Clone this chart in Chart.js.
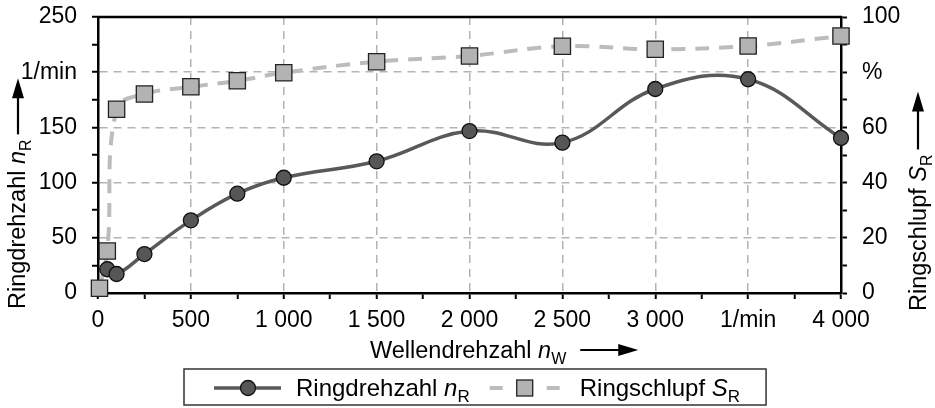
<!DOCTYPE html>
<html><head><meta charset="utf-8">
<script src="https://cdn.jsdelivr.net/npm/chart.js@4/dist/chart.umd.min.js"></script>
<style>html,body{margin:0;padding:0;background:#fff}#wrap{width:935px;height:408px;position:relative}</style>
</head><body><div id="wrap"><canvas id="c" width="935" height="408"></canvas></div>
<script>
// ---- data ----
const ringShaftSpeed = [50, 100, 250, 500, 750, 1000, 1500, 2000, 2500, 3000, 3500, 4000];
const ringSpeed      = [21.5, 17.2, 35.3, 65.8, 90.0, 104.4, 119.3, 146.7, 136.2, 184.8, 193.6, 140.4];
const slipShaftSpeed = [8, 50, 100, 250, 500, 750, 1000, 1500, 2000, 2500, 3000, 3500, 4000];
const ringSlip       = [1.7, 15.2, 66.6, 72.1, 74.7, 76.9, 79.8, 83.8, 85.9, 89.4, 88.3, 89.5, 93.1];

const xTickValues  = [0, 500, 1000, 1500, 2000, 2500, 3000, 3500, 4000];
const xTickLabels  = ['0', '500', '1 000', '1 500', '2 000', '2 500', '3 000', '1/min', '4 000'];
const yTickValues  = [0, 50, 100, 150, 200, 250];
const yTickLabels  = ['0', '50', '100', '150', '1/min', '250'];
const y2TickValues = [0, 20, 40, 60, 80, 100];
const y2TickLabels = ['0', '20', '40', '60', '%', '100'];

const seriesNames   = ['Ringdrehzahl', 'Ringschlupf'];
const seriesSymbols = ['n', 'S'];
const seriesIndex   = 'R';
const xTitleParts   = ['Wellendrehzahl ', 'n', 'W'];

// ---- styles ----
const FONT = '"Liberation Sans", Arial, sans-serif';
const FS = 23;      // tick labels
const TFS = 23.5;   // axis titles
const LFS = 24;     // legend
const darkLine = '#595959', darkFill = '#565656';
const lightLine = '#bcbcbc', lightFill = '#b3b3b3';
const gridCol = '#b3b3b3';

function labelFrom(values, labels) {
  return v => { const i = values.indexOf(v); return i >= 0 ? labels[i] : ''; };
}

function richParts(name, sym, sub) {
  return [{t: name + ' '}, {t: sym, it: true}, {t: sub, sub: true}];
}
function setFont(ctx, p, size) {
  const fs = p.sub ? Math.round(size * 0.7) : size;
  ctx.font = (p.it ? 'italic ' : '') + fs + 'px ' + FONT;
}
function drawRich(ctx, parts, x, y, size) {
  let cx = x;
  ctx.textAlign = 'left'; ctx.textBaseline = 'alphabetic';
  for (const p of parts) {
    setFont(ctx, p, size);
    ctx.fillText(p.t, cx, y + (p.sub ? size * 0.25 : 0));
    cx += ctx.measureText(p.t).width;
  }
  return cx;
}
function arrow(ctx, x0, y0, len) { // drawn along +x in current transform
  ctx.beginPath(); ctx.moveTo(x0, y0); ctx.lineTo(x0 + len - 14, y0);
  ctx.lineWidth = 2.2; ctx.strokeStyle = '#000'; ctx.stroke();
  ctx.beginPath(); ctx.moveTo(x0 + len, y0); ctx.lineTo(x0 + len - 20, y0 - 6);
  ctx.lineTo(x0 + len - 20, y0 + 6); ctx.closePath(); ctx.fillStyle = '#000'; ctx.fill();
}

const decorPlugin = {
  id: 'decor',
  afterDraw(chart) {
    const ctx = chart.ctx, a = chart.chartArea;
    ctx.save();
    // top frame line
    ctx.beginPath(); ctx.moveTo(a.left - 1, a.top); ctx.lineTo(a.right + 1, a.top);
    ctx.lineWidth = 2.5; ctx.strokeStyle = '#000'; ctx.stroke();
    ctx.fillStyle = '#000';
    // x title
    const xParts = [{t: xTitleParts[0]}, {t: xTitleParts[1], it: true}, {t: xTitleParts[2], sub: true}];
    const xEnd = drawRich(ctx, xParts, 370, 358, TFS);
    arrow(ctx, xEnd + 14, 350, 58);
    // left title (rotated)
    ctx.save();
    ctx.translate(25, 309); ctx.rotate(-Math.PI / 2);
    ctx.fillStyle = '#000';
    const lEnd = drawRich(ctx, richParts(seriesNames[0], seriesSymbols[0], seriesIndex), 0, 0, TFS);
    arrow(ctx, lEnd + 5, -7, 56);
    ctx.restore();
    // right title (rotated)
    ctx.save();
    ctx.translate(926, 311); ctx.rotate(-Math.PI / 2);
    ctx.fillStyle = '#000';
    const rEnd = drawRich(ctx, richParts(seriesNames[1], seriesSymbols[1], seriesIndex), 0, 0, TFS);
    arrow(ctx, rEnd + 5, -8, 58);
    ctx.restore();

    // legend
    const ly = 388, lx = 184;
    let x = lx + 30;
    ctx.beginPath(); ctx.moveTo(x, ly); ctx.lineTo(x + 67, ly);
    ctx.lineWidth = 3.5; ctx.strokeStyle = darkLine; ctx.stroke();
    ctx.beginPath(); ctx.arc(x + 34, ly, 7.5, 0, Math.PI * 2);
    ctx.fillStyle = darkFill; ctx.fill(); ctx.lineWidth = 1.3; ctx.strokeStyle = '#111'; ctx.stroke();
    x += 82;
    ctx.fillStyle = '#000';
    x = drawRich(ctx, richParts(seriesNames[0], seriesSymbols[0], seriesIndex), x, ly + 8, LFS);
    x += 20;
    ctx.lineWidth = 4; ctx.strokeStyle = lightLine; ctx.lineCap = 'butt';
    ctx.beginPath(); ctx.moveTo(x, ly); ctx.lineTo(x + 13, ly); ctx.stroke();
    ctx.beginPath(); ctx.moveTo(x + 57, ly); ctx.lineTo(x + 70, ly); ctx.stroke();
    ctx.fillStyle = lightFill; ctx.fillRect(x + 27, ly - 8, 16, 16);
    ctx.lineWidth = 1.3; ctx.strokeStyle = '#222'; ctx.strokeRect(x + 27, ly - 8, 16, 16);
    x += 90;
    ctx.fillStyle = '#000';
    x = drawRich(ctx, richParts(seriesNames[1], seriesSymbols[1], seriesIndex), x, ly + 8, LFS);
    ctx.lineWidth = 1.5; ctx.strokeStyle = '#333';
    ctx.strokeRect(lx, ly - 19, x + 26 - lx, 36);
    ctx.restore();
  }
};

const gridDash = [8, 6];
function gridColor(isMajor) {
  return c => (c.tick && isMajor(c.tick.value)) ? gridCol : 'rgba(0,0,0,0)';
}
function fitV(w) { return s => { s.width = w; s.paddingTop = 0; s.paddingBottom = 0; }; }

new Chart(document.getElementById('c'), {
  type: 'line',
  data: {
    datasets: [
      {
        label: seriesNames[0],
        data: ringShaftSpeed.map((x, i) => ({x, y: ringSpeed[i]})),
        yAxisID: 'y', order: 0,
        borderColor: darkLine, borderWidth: 3.5, tension: 0.4,
        pointStyle: 'circle', pointRadius: 7.5, pointBackgroundColor: darkFill,
        pointBorderColor: '#111', pointBorderWidth: 1.3, clip: false
      },
      {
        label: seriesNames[1],
        data: slipShaftSpeed.map((x, i) => ({x, y: ringSlip[i]})),
        yAxisID: 'y1', order: 1,
        borderColor: lightLine, borderWidth: 4, borderDash: [14, 10], tension: 0.4,
        pointStyle: 'rect', pointRadius: 11.5, pointBackgroundColor: lightFill,
        pointBorderColor: '#222', pointBorderWidth: 1.3, clip: false
      }
    ]
  },
  options: {
    responsive: false, animation: false, devicePixelRatio: 1,
    layout: {padding: {top: 17, left: 0, right: 0, bottom: 0}},
    plugins: {legend: {display: false}, tooltip: {enabled: false}},
    scales: {
      x: {
        type: 'linear', min: 0, max: 4000,
        afterFit: s => { s.height = 115; s.paddingLeft = 0; s.paddingRight = 0; },
        ticks: {stepSize: 250, autoSkip: false, maxRotation: 0, padding: 8, color: '#000',
                font: {family: FONT, size: FS}, callback: labelFrom(xTickValues, xTickLabels)},
        grid: {color: gridColor(v => v % 500 === 0 && v > 0 && v < 4000), lineWidth: 1.5,
               borderDash: gridDash, tickColor: '#000', tickWidth: 2, tickLength: 6, tickBorderDash: []},
        border: {color: '#000', width: 2.5, dash: gridDash}
      },
      y: {
        type: 'linear', position: 'left', min: 0, max: 250,
        afterFit: fitV(98),
        ticks: {stepSize: 25, autoSkip: false, padding: 15, color: '#000',
                font: {family: FONT, size: FS}, callback: labelFrom(yTickValues, yTickLabels)},
        grid: {color: gridColor(v => v % 50 === 0 && v > 0 && v < 250), lineWidth: 1.5,
               borderDash: gridDash, tickColor: '#000', tickWidth: 2, tickLength: 6, tickBorderDash: []},
        border: {color: '#000', width: 2.5, dash: gridDash}
      },
      y1: {
        type: 'linear', position: 'right', min: 0, max: 100,
        afterFit: fitV(94),
        ticks: {stepSize: 10, autoSkip: false, padding: 15, color: '#000',
                font: {family: FONT, size: FS}, callback: labelFrom(y2TickValues, y2TickLabels)},
        grid: {drawOnChartArea: false, tickColor: '#000', tickWidth: 2, tickLength: 6, tickBorderDash: []},
        border: {color: '#000', width: 2.5}
      }
    }
  },
  plugins: [decorPlugin]
});
</script>
</body></html>
